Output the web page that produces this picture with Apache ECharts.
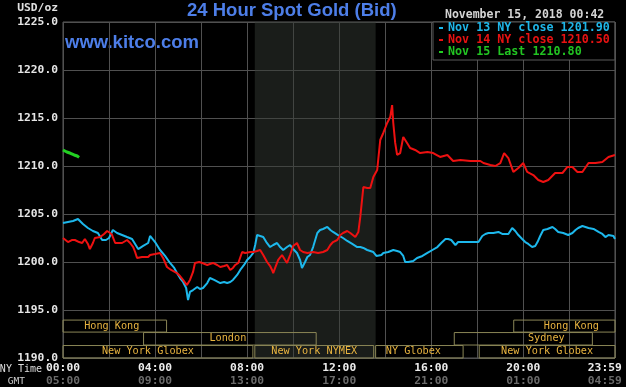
<!DOCTYPE html>
<html><head><meta charset="utf-8">
<script src="https://cdn.jsdelivr.net/npm/echarts@6/dist/echarts.min.js"></script>
<style>html,body{margin:0;padding:0;background:#000;}#c{width:626px;height:387px;}</style>
</head><body><div id="c"></div>
<script>
// ---- data (minutes after 00:00 NY time, USD/oz) ----
const nov13Minutes = [0,13,26,39,52,65,78,91,102,112,120,130,141,154,167,180,196,209,222,227,240,253,266,279,290,297,305,313,321,326,331,339,350,357,365,376,383,394,410,420,428,436,443,454,462,472,480,488,496,501,506,514,522,530,540,548,558,566,574,584,592,600,610,618,623,631,637,644,652,663,670,678,689,697,704,717,730,741,754,767,775,783,793,801,809,817,822,830,835,848,861,871,879,887,892,900,905,913,923,937,950,963,976,986,997,1004,1012,1023,1030,1041,1062,1083,1093,1101,1109,1122,1135,1145,1153,1161,1171,1179,1187,1197,1205,1213,1223,1231,1237,1244,1252,1263,1276,1283,1291,1304,1317,1328,1336,1343,1354,1362,1370,1383,1396,1406,1414,1422,1427,1435,1439];
const nov13Values = [1204.06,1204.17,1204.27,1204.48,1203.96,1203.54,1203.23,1203.02,1202.29,1202.29,1202.50,1203.33,1203.02,1202.81,1202.60,1202.40,1201.35,1201.67,1201.98,1202.71,1202.08,1201.25,1200.63,1199.90,1199.38,1198.85,1198.33,1197.92,1197.29,1196.04,1196.88,1197.08,1197.40,1197.19,1197.29,1197.81,1198.33,1198.13,1197.81,1197.92,1197.81,1197.92,1198.13,1198.65,1199.17,1199.69,1200.21,1200.52,1200.94,1201.77,1202.81,1202.71,1202.60,1202.08,1201.56,1201.77,1201.98,1201.56,1201.25,1201.56,1201.77,1201.35,1200.94,1200.21,1199.38,1200.00,1200.52,1200.73,1201.56,1203.02,1203.33,1203.44,1203.65,1203.33,1203.13,1202.81,1202.50,1202.19,1201.88,1201.56,1201.56,1201.46,1201.25,1201.15,1201.04,1200.63,1200.52,1200.73,1200.94,1201.04,1201.25,1201.15,1201.04,1200.63,1200.00,1200.00,1199.90,1200.10,1200.42,1200.63,1200.94,1201.25,1201.56,1201.98,1202.40,1202.40,1202.29,1201.77,1202.08,1202.08,1202.08,1202.08,1202.71,1202.92,1203.02,1203.02,1203.13,1202.92,1202.92,1202.92,1203.54,1203.23,1202.81,1202.40,1202.08,1201.88,1201.56,1201.67,1202.08,1202.71,1203.33,1203.44,1203.65,1203.44,1203.13,1203.02,1202.81,1203.02,1203.33,1203.54,1203.75,1203.65,1203.54,1203.44,1203.13,1202.92,1202.60,1202.81,1202.92,1202.71,1202.40];

const nov14Minutes = [0,13,23,31,42,50,57,65,70,78,83,97,107,115,123,128,136,146,154,167,175,183,188,193,206,222,227,240,253,261,271,282,297,305,313,323,331,339,344,355,363,376,383,391,402,410,420,428,436,443,449,457,462,467,475,480,488,496,506,514,522,532,540,545,548,553,561,571,579,584,592,600,610,618,626,637,652,665,678,689,697,704,715,723,730,741,749,754,762,767,770,775,783,788,793,801,809,819,827,835,845,853,858,861,866,871,879,887,892,897,905,918,931,950,965,983,1002,1017,1036,1062,1088,1096,1114,1127,1140,1150,1161,1174,1187,1200,1210,1226,1239,1252,1265,1283,1302,1315,1328,1341,1354,1370,1388,1406,1422,1439];
const nov14Values = [1202.50,1202.08,1202.29,1202.29,1202.08,1201.98,1202.40,1201.88,1201.35,1201.98,1202.50,1202.60,1202.92,1203.23,1203.02,1202.81,1201.98,1201.98,1201.98,1202.29,1201.98,1201.56,1201.04,1200.42,1200.52,1200.52,1200.73,1200.83,1200.94,1200.42,1199.48,1199.17,1198.85,1198.54,1198.13,1197.60,1198.13,1198.96,1199.90,1200.00,1199.90,1199.69,1199.79,1199.90,1199.69,1199.48,1199.58,1199.69,1199.17,1199.38,1199.69,1199.90,1199.90,1201.04,1200.94,1200.94,1201.04,1201.04,1201.15,1201.25,1200.73,1200.00,1199.58,1199.17,1198.85,1199.38,1200.21,1200.73,1200.21,1199.90,1200.73,1201.67,1201.98,1201.25,1201.04,1200.94,1201.04,1200.94,1201.04,1201.25,1201.77,1202.08,1202.29,1202.81,1203.02,1203.23,1203.02,1203.02,1202.60,1202.60,1203.13,1204.69,1207.81,1207.92,1207.71,1207.71,1208.85,1209.58,1212.71,1213.44,1214.48,1215.10,1216.35,1214.48,1212.40,1211.15,1211.35,1213.02,1212.71,1212.40,1211.88,1211.67,1211.35,1211.46,1211.35,1210.94,1211.15,1210.52,1210.63,1210.52,1210.52,1210.31,1210.10,1210.00,1210.31,1211.35,1210.83,1209.38,1209.79,1210.31,1209.38,1209.06,1208.54,1208.33,1208.54,1209.27,1209.27,1209.90,1209.90,1209.38,1209.38,1210.31,1210.31,1210.42,1210.94,1211.15];

const nov15Minutes = [0,10,18,29,37,42];
const nov15Values = [1211.67,1211.46,1211.35,1211.15,1211.04,1210.90];

const seriesNames = ['Nov 13 NY close 1201.90','Nov 14 NY close 1210.50','Nov 15 Last 1210.80'];

// market sessions (minutes, NY time)
const sessionNames = ['Hong Kong','London','New York Globex','New York NYMEX','NY Globex','Hong Kong','Sydney','New York Globex'];
const sessionStart = [0,210,0,500,815,1175,1020,1085];
const sessionEnd   = [270,660,495,810,1043,1439,1380,1439];
const sessionRow   = [2,1,0,0,0,2,1,0];
const rowBottom = [1190, 1191.35, 1192.7];
const rowTop    = [1191.3, 1192.65, 1193.95];
const nymexShade = [500, 815];

// y axis
const yMin = 1190, yMax = 1225, yStep = 5;
// x axis
const xMin = 0, xMax = 1439, xStep = 120, gmtOffsetHours = 5;

// ---- styles ----
const sessionLabelDx = [-3,-2,-10,0,-6,7,23,0];
const MONO = '"DejaVu Sans Mono", "Liberation Mono", monospace';
const SANS = '"Liberation Sans", Arial, sans-serif';
const colors = ['#1db8ec','#ee1111','#22d022'];
const legendTextColors = ['#1fb6e8','#e81212','#22c422'];

function pad(n){ return (n<10?'0':'') + n; }
function hhmm(min){ return pad(Math.floor(min/60)%24) + ':' + pad(min%60); }
function pairs(ms, vs){ return ms.map((m,i)=>[m, vs[i]]); }

const areaData = [];
areaData.push([
  {xAxis: nymexShade[0], yAxis: yMin, itemStyle:{color:'rgba(52,58,52,0.5)', borderWidth:0}, label:{show:false}},
  {xAxis: nymexShade[1], yAxis: yMax}
]);
sessionNames.forEach((n,i)=>{
  const r = sessionRow[i];
  areaData.push([
    {name: n, xAxis: sessionStart[i], yAxis: rowBottom[r],
     itemStyle:{color:'rgba(0,0,0,0)', borderColor:'#8a8656', borderWidth:1},
     label:{show:true, position:'inside', offset:[sessionLabelDx[i],0], color:'#e8b440', fontFamily:MONO, fontSize:10.2}},
    {xAxis: sessionEnd[i], yAxis: rowTop[r]}
  ]);
});

const chart = echarts.init(document.getElementById('c'), null, {renderer:'canvas'});
chart.setOption({
  animation:false,
  backgroundColor:'#000',
  grid:{left:63, right:11, top:22, bottom:29, show:true, borderColor:'#5a5a5a', borderWidth:1, backgroundColor:'transparent',
        containLabel:false, outerBoundsMode:'none'},
  xAxis:{
    type:'value', min:xMin, max:xMax, interval:xStep,
    axisLine:{show:false}, axisTick:{show:false},
    splitLine:{show:true, lineStyle:{color:'#505050', width:1}},
    axisLabel:{
      margin:4, interval:0, showMinLabel:true, showMaxLabel:true, hideOverlap:false,
      formatter:function(v){
        if (v === xMax) return '{a|23:59   }\n{b|04:59   }';
        if (v % 240 !== 0) return '';
        return '{a|' + hhmm(v) + '}\n{b|' + hhmm(v + gmtOffsetHours*60) + '}';
      },
      rich:{
        a:{color:'#ececec', fontFamily:MONO, fontWeight:'bold', fontSize:11.3, lineHeight:13},
        b:{color:'#6a6a6a', fontFamily:MONO, fontWeight:'bold', fontSize:11.3, lineHeight:13}
      }
    }
  },
  yAxis:{
    type:'value', min:yMin, max:yMax, interval:yStep,
    axisLine:{show:false}, axisTick:{show:false},
    splitLine:{show:true, lineStyle:{color:'#505050', width:1}},
    axisLabel:{margin:5, color:'#e6e6e6', fontFamily:MONO, fontWeight:'bold', fontSize:11.3,
      formatter:function(v){ return v.toFixed(1); }}
  },
  legend:{
    orient:'vertical', left:433, top:22, padding:[0,5,2,6], itemGap:0,
    itemWidth:4, itemHeight:2, icon:'rect', selectedMode:false,
    backgroundColor:'#000', borderColor:'#5a5a5a', borderWidth:1,
    textStyle:{fontFamily:MONO, fontWeight:'bold', fontSize:11.7, lineHeight:12},
    data: seriesNames.map((n,i)=>({name:n, textStyle:{color:legendTextColors[i]}}))
  },
  graphic:[
    {type:'text', left:187, top:1, style:{text:'24 Hour Spot Gold (Bid)', fill:'#4d7ee8', font:'bold 18.5px '+SANS}},
    {type:'text', left:65, top:33, style:{text:'www.kitco.com', fill:'#4d7ee8', font:'bold 18.5px '+SANS}},
    {type:'text', x:445, y:15, style:{text:'November 15, 2018 00:42', fill:'#d4d4d4', font:'bold 11.5px '+MONO, verticalAlign:'middle', align:'left'}},
    {type:'text', x:58, y:8, style:{text:'USD/oz', fill:'#e0e0e0', font:'bold 11.3px '+MONO, verticalAlign:'middle', align:'right'}},
    {type:'text', x:42, y:369, style:{text:'NY Time', fill:'#dcdcdc', font:'10px '+MONO, verticalAlign:'middle', align:'right'}},
    {type:'text', x:25, y:382, style:{text:'GMT', fill:'#cfcfcf', font:'9.5px '+MONO, verticalAlign:'middle', align:'right'}}
  ],
  series:[
    {name:'sessions', type:'line', data:[[0,yMin]], symbol:'none', lineStyle:{opacity:0}, silent:true,
     markArea:{silent:true, data:areaData}},
    {name:seriesNames[0], type:'line', data:pairs(nov13Minutes, nov13Values), showSymbol:false, symbol:'none',
     color:colors[0], lineStyle:{color:colors[0], width:2}},
    {name:seriesNames[1], type:'line', data:pairs(nov14Minutes, nov14Values), showSymbol:false, symbol:'none',
     color:colors[1], lineStyle:{color:colors[1], width:2}},
    {name:seriesNames[2], type:'line', data:pairs(nov15Minutes, nov15Values), showSymbol:false, symbol:'none',
     color:colors[2], lineStyle:{color:colors[2], width:3}}
  ]
});
</script>
</body></html>
